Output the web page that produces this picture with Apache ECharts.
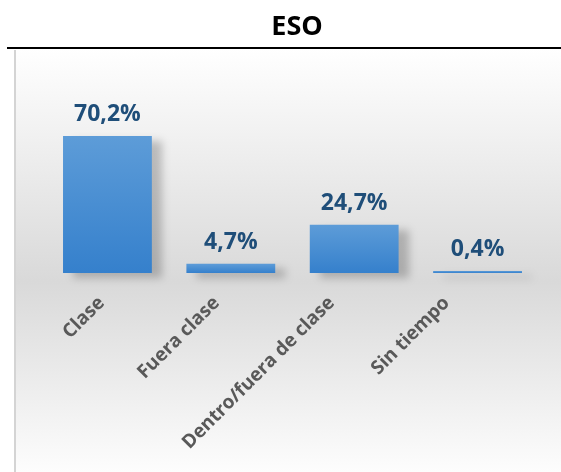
<!DOCTYPE html>
<html>
<head>
<meta charset="utf-8">
<script src="https://cdn.jsdelivr.net/npm/echarts@6/dist/echarts.min.js"></script>
<style>html,body{margin:0;padding:0;background:#fff;}#c{width:561px;height:472px;}</style>
</head>
<body>
<div id="c"></div>
<script>
var titleText = 'ESO';
var categories = ['Clase', 'Fuera clase', 'Dentro/fuera de clase', 'Sin tiempo'];
var values = [70.2, 4.7, 24.7, 0.4];
var labelTexts = ['70,2%', '4,7%', '24,7%', '0,4%'];

var chart = echarts.init(document.getElementById('c'), null, {renderer: 'canvas'});
chart.setOption({
  animation: false,
  title: {
    text: titleText, left: 292, top: 9, textAlign: 'center',
    textStyle: {fontFamily: 'Open Sans', fontWeight: 'bold', fontSize: 27, color: '#000'}
  },
  graphic: [
    {type: 'rect', z: -10, silent: true, shape: {x: 15, y: 49, width: 546, height: 423},
     style: {fill: new echarts.graphic.LinearGradient(0, 0, 0, 1, [
       {offset: 0, color: '#ffffff'},
       {offset: 0.55, color: '#d9d9d9'},
       {offset: 1, color: '#fdfdfd'}
     ])}},
    {type: 'line', z: -5, silent: true, shape: {x1: 15, y1: 50, x2: 15, y2: 472}, style: {stroke: '#d4d4d4', lineWidth: 2}},
    {type: 'line', z: -5, silent: true, shape: {x1: 7, y1: 48, x2: 561, y2: 48}, style: {stroke: '#000', lineWidth: 2}}
  ],
  grid: [
    {left: 45.75, right: 21.75, top: 117, bottom: 199, containLabel: false},
    {left: 44, right: 57, top: 117, bottom: 199, containLabel: false}
  ],
  xAxis: [
    {type: 'category', data: categories, gridIndex: 0,
     axisLine: {show: false}, axisTick: {show: false}, axisLabel: {show: false}},
    {type: 'category', data: categories, gridIndex: 1,
     axisLine: {show: false}, axisTick: {show: false},
     axisLabel: {rotate: 45, margin: 27, interval: 0, fontFamily: 'Open Sans', fontWeight: 'bold', fontSize: 19, color: '#595959'}}
  ],
  yAxis: [
    {type: 'value', min: 0, max: 80, show: false, splitLine: {show: false}, gridIndex: 0},
    {type: 'value', min: 0, max: 80, show: false, splitLine: {show: false}, gridIndex: 1}
  ],
  series: [{
    type: 'bar', data: values, barCategoryGap: '28%', barMinHeight: 2,
    xAxisIndex: 0, yAxisIndex: 0,
    itemStyle: {
      color: new echarts.graphic.LinearGradient(0, 0, 0, 1, [
        {offset: 0, color: '#5d9cd8'},
        {offset: 1, color: '#3580cc'}
      ]),
      shadowColor: 'rgba(0,0,0,0.22)', shadowBlur: 8, shadowOffsetX: 10, shadowOffsetY: 5
    },
    label: {
      show: true, position: 'top', distance: 10,
      formatter: function (p) { return labelTexts[p.dataIndex]; },
      fontFamily: 'Open Sans', fontWeight: 'bold', fontSize: 23, color: '#1f4e79'
    }
  }]
});
</script>
</body>
</html>
